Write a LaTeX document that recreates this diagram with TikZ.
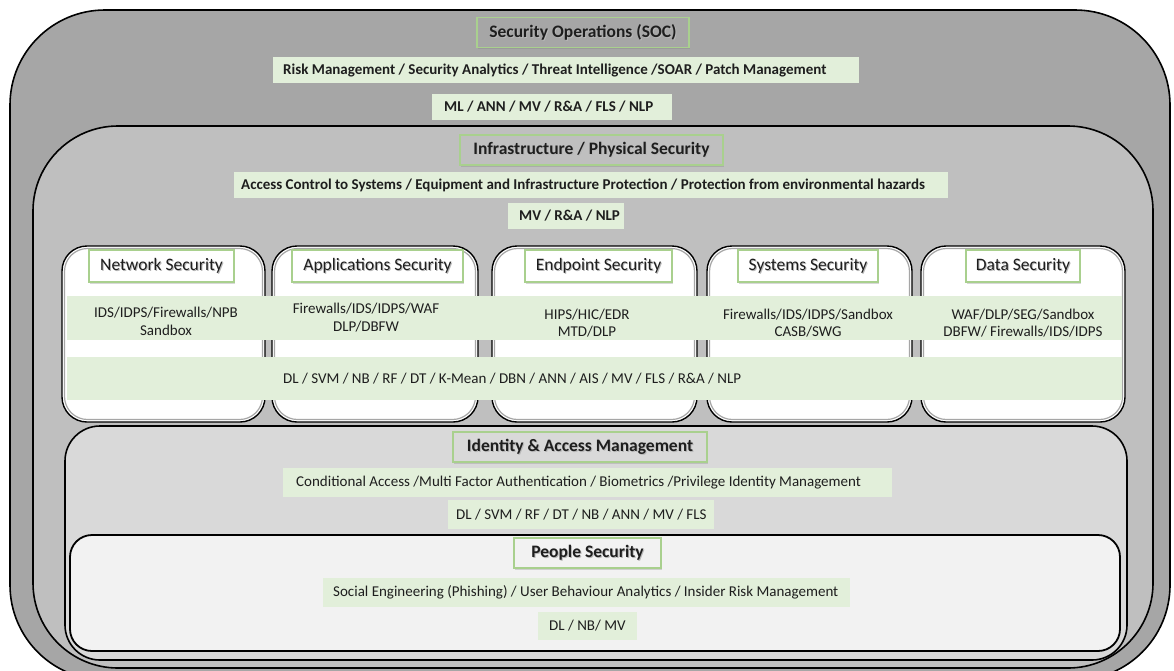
\documentclass[tikz,border=0pt]{standalone}
\usepackage{fontspec}
\setmainfont{Carlito}
\usetikzlibrary{shadows}

\definecolor{socgray}{HTML}{A6A6A6}
\definecolor{infragray}{HTML}{BFBFBF}
\definecolor{iamgray}{HTML}{D9D9D9}
\definecolor{peoplegray}{HTML}{F2F2F2}
\definecolor{bandgreen}{HTML}{E2EFDA}
\definecolor{titlegreen}{HTML}{A9D08E}
\definecolor{ink}{HTML}{1E1E1E}

% title text with a soft offset shadow
\newcommand\shtext[1]{\leavevmode\rlap{\hspace{1pt}\raisebox{-1.2pt}{\textcolor{black!28}{#1}}}#1}

\tikzset{
  layer/.style={draw=black, line width=1.6pt},
  secbox/.style={draw=black, line width=1.4pt, fill=white, rounded corners=25pt},
  secinner/.style={draw=black!35, line width=1.2pt, rounded corners=23pt},
  band/.style={fill=bandgreen, inner sep=0pt, text=ink, anchor=west},
  boldtxt/.style={font=\fontsize{15}{18}\selectfont\bfseries},
  plaintxt/.style={font=\fontsize{15}{18}\selectfont},
  tooltxt/.style={font=\fontsize{15}{17.5}\selectfont, align=center, text=ink, inner sep=0pt},
  title/.style={draw=titlegreen, line width=1.1pt, inner sep=0pt, text=ink,
    drop shadow={shadow xshift=1pt, shadow yshift=-1.5pt, opacity=.3}},
  bigtitle/.style={title, font=\fontsize{17.5}{20}\selectfont\bfseries, minimum height=30pt},
  boxtitle/.style={title, fill=white, font=\fontsize{17.5}{20}\selectfont, minimum height=32pt},
}

\begin{document}
\begin{tikzpicture}[x=1pt, y=-1pt]
\useasboundingbox (0,0) rectangle (1174,670);
\clip (0,0) rectangle (1174,670);

% nested layers
\draw[layer, fill=socgray, rounded corners=95pt] (10,10) rectangle (1170,680);
\draw[layer, fill=infragray, rounded corners=85pt] (33,126) rectangle (1153,668);

% five security domains
\foreach \l/\r in {62/265, 272/478, 492/697, 707/912, 921/1125}{
  \draw[secbox] (\l,246) rectangle (\r,422);
  \draw[secinner] (\l+2.5,248.5) rectangle (\r-2.5,419.5);
}

\draw[layer, fill=iamgray, rounded corners=35pt] (65,426) rectangle (1127,660);
\draw[layer, line width=1.8pt, fill=peoplegray, rounded corners=22pt] (70,535) rectangle (1120,651);

% Security Operations
\node[bigtitle, fill=socgray, minimum width=212pt] (soc) at (583,32.5) {\shtext{Security Operations (SOC)}};
\node[band, boldtxt, minimum height=26pt] (socfun) at (273,70)
  {\makebox[586pt][l]{\hspace{10pt}Risk Management / Security Analytics / Threat Intelligence /SOAR / Patch Management}};
\node[band, boldtxt, minimum height=26pt] (socalg) at (432,107)
  {\makebox[240pt][l]{\hspace{12pt}ML / ANN / MV / R\&A / FLS / NLP}};

% Infrastructure / Physical Security
\node[bigtitle, fill=infragray, minimum width=263pt] (infra) at (591.5,150) {\shtext{Infrastructure / Physical Security}};
\node[band, boldtxt, minimum height=26pt] (infrafun) at (234,185)
  {\makebox[714pt][l]{\hspace{7pt}Access Control to Systems / Equipment and Infrastructure Protection / Protection from environmental hazards}};
\node[band, boldtxt, minimum height=26pt] (infraalg) at (508,216)
  {\makebox[116pt][l]{\hspace{11pt}MV / R\&A / NLP}};

% domain titles
\node[boxtitle, minimum width=145pt] (net) at (161.5,266) {\shtext{Network Security}};
\node[boxtitle, minimum width=171pt] (app) at (377.5,266) {\shtext{Applications Security}};
\node[boxtitle, minimum width=147pt] (endp) at (598.5,266) {\shtext{Endpoint Security}};
\node[boxtitle, minimum width=140pt] (sys) at (808,266) {\shtext{Systems Security}};
\node[boxtitle, minimum width=114pt] (data) at (1023,266) {\shtext{Data Security}};

% shared bands across the domains
\node[band, minimum width=1055pt, minimum height=44pt] (toolband) at (67,318) {};
\node[band, minimum width=1055pt, minimum height=43pt] (algband) at (67,378.5) {};

\node[tooltxt] (nettools) at (166,321.5) {IDS/IDPS/Firewalls/NPB\\Sandbox};
\node[tooltxt] (apptools) at (366,317.5) {Firewalls/IDS/IDPS/WAF\\DLP/DBFW};
\node[tooltxt] (endptools) at (587,323) {HIPS/HIC/EDR\\MTD/DLP};
\node[tooltxt] (systools) at (808,323) {Firewalls/IDS/IDPS/Sandbox\\CASB/SWG};
\node[tooltxt] (datatools) at (1023,323) {WAF/DLP/SEG/Sandbox\\DBFW/ Firewalls/IDS/IDPS};
\node[tooltxt, anchor=west] (domalg) at (283,379) {DL / SVM / NB / RF / DT / K-Mean / DBN / ANN / AIS / MV / FLS / R\&A / NLP};

% Identity & Access Management
\node[bigtitle, fill=iamgray, minimum width=254pt] (iam) at (580,447) {\shtext{Identity \& Access Management}};
\node[band, plaintxt, minimum height=29pt] (iamfun) at (283,482.5)
  {\makebox[609pt][l]{\hspace{13pt}Conditional Access /Multi Factor Authentication / Biometrics /Privilege Identity Management}};
\node[band, plaintxt, minimum height=29pt] (iamalg) at (448,514.5)
  {\makebox[266pt][l]{\hspace{8pt}DL / SVM / RF / DT / NB / ANN / MV / FLS}};

% People Security
\node[bigtitle, fill=peoplegray, minimum width=147pt] (people) at (587.5,553) {\shtext{People Security}};
\node[band, plaintxt, minimum height=29pt] (peoplefun) at (323,592.5)
  {\makebox[527pt][l]{\hspace{10pt}Social Engineering (Phishing) / User Behaviour Analytics / Insider Risk Management}};
\node[band, plaintxt, minimum height=28pt] (peoplealg) at (538,626)
  {\makebox[99pt][l]{\hspace{11pt}DL / NB/ MV}};
\end{tikzpicture}
\end{document}
